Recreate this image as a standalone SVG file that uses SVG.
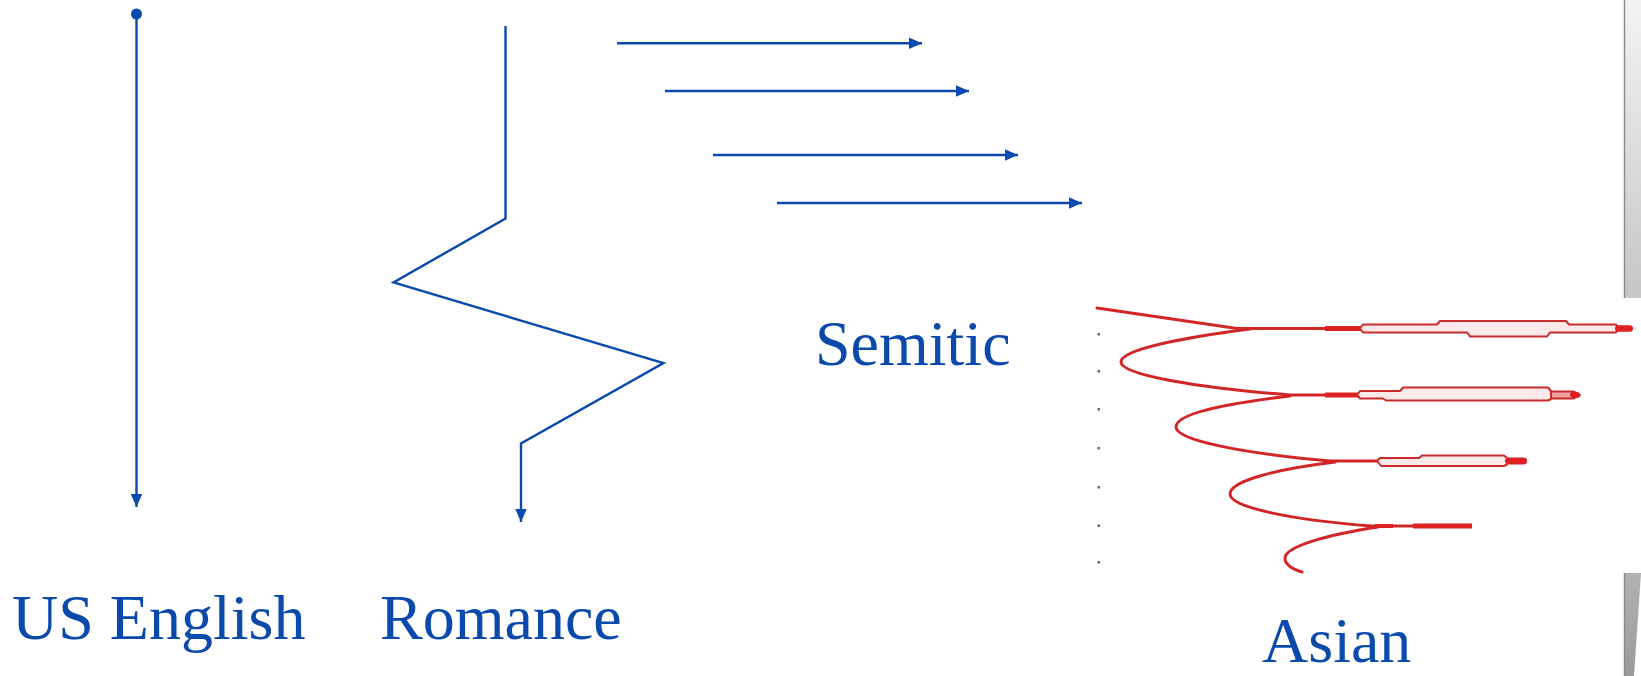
<svg xmlns="http://www.w3.org/2000/svg" width="1641" height="676" viewBox="0 0 1641 676">
  <style>
    .lbl { font-family: "Liberation Serif", "Times New Roman", serif; font-size: 64px; fill: #0b4aad; }
    .conn { fill: none; stroke: #0b4aad; stroke-width: 2.4; stroke-linejoin: miter; }
    .red { fill: none; stroke: #d22626; stroke-width: 3; stroke-linecap: round; }
    .redthick { fill: none; stroke: #dd2222; stroke-width: 5; }
    .pill { fill: #fde9e9; stroke: #cc2b2b; stroke-width: 2; stroke-linejoin: round; }
    .knob { fill: #e02020; }
    .tick { fill: #6a6a6a; }
  </style>
  <defs>
    <marker id="arrow" markerUnits="userSpaceOnUse" markerWidth="15" markerHeight="13" refX="13.5" refY="6" orient="auto">
      <path d="M0,0 L13.5,6 L0,12 Z" fill="#0b4aad"/>
    </marker>
    <linearGradient id="barTop" x1="0" y1="0" x2="0" y2="1">
      <stop offset="0" stop-color="#f3f3f3"/>
      <stop offset="1" stop-color="#c6c6c6"/>
    </linearGradient>
    <linearGradient id="barBot" x1="0" y1="0" x2="0" y2="1">
      <stop offset="0" stop-color="#b2b2b2"/>
      <stop offset="1" stop-color="#9a9a9a"/>
    </linearGradient>
  </defs>
  <rect width="1641" height="676" fill="#ffffff"/>

  <g id="connectors">
    <circle cx="136.5" cy="14" r="5.5" fill="#0b4aad"/>
    <path class="conn" d="M136.5,14 L136.5,507" marker-end="url(#arrow)"/>
    <path class="conn" d="M505.5,26 L505.5,218.5 L393.5,282.5 L663.5,363 L521,443.5 L521,522" marker-end="url(#arrow)"/>
    <path class="conn" d="M617,43.3 L922,43.3" marker-end="url(#arrow)"/>
    <path class="conn" d="M665,91 L969,91" marker-end="url(#arrow)"/>
    <path class="conn" d="M713,155 L1018,155" marker-end="url(#arrow)"/>
    <path class="conn" d="M777,203 L1082,203" marker-end="url(#arrow)"/>
  </g>

  <g id="us-english">
    <text class="lbl" x="12" y="639">US English</text>
  </g>
  <g id="romance">
    <text class="lbl" x="380" y="639">Romance</text>
  </g>
  <g id="semitic">
    <text class="lbl" x="815" y="365">Semitic</text>
  </g>
  <g id="asian">
    <text class="lbl" x="1262" y="662">Asian</text>
  </g>

  <g id="asian-illustration">
    <g class="ticks">
      <rect class="tick" x="1097.5" y="333" width="2.5" height="2.5"/>
      <rect class="tick" x="1097.5" y="370" width="2.5" height="2.5"/>
      <rect class="tick" x="1097.5" y="408" width="2.5" height="2.5"/>
      <rect class="tick" x="1097.5" y="447" width="2.5" height="2.5"/>
      <rect class="tick" x="1097.5" y="486" width="2.5" height="2.5"/>
      <rect class="tick" x="1097.5" y="524.5" width="2.5" height="2.5"/>
      <rect class="tick" x="1097.5" y="561" width="2.5" height="2.5"/>
    </g>
    <path class="red" d="M1097,308 L1237,328.5 L1325,328.5"/>
    <path class="red" d="M1250,329 C1180,338 1121,350 1121,362 C1121,375 1200,388 1290,395 L1325,395"/>
    <path class="red" d="M1290,396 C1215,405 1176,415 1176,427 C1176,440 1240,453 1330,461 L1378,461"/>
    <path class="red" d="M1335,462 C1270,470 1230,482 1230,494 C1230,507 1290,520 1372,526 L1413,526"/>
    <path class="red" d="M1378,527 C1325,535 1285,547 1285,558 C1285,564 1292,569 1302,572"/>
    <path class="redthick" d="M1325,328.5 L1361,328.5"/>
    <path class="pill" d="M1360,328.5 L1363,324.5 L1437,324.5 L1440,321 L1566,321 L1569,324.5 L1616,324.5 L1619,328.5 L1616,332.5 L1550,332.5 L1547,336.5 L1470,336.5 L1467,332.5 L1363,332.5 Z"/>
    <rect class="knob" x="1615" y="325.3" width="18" height="6.4" rx="3.2"/>
    <path class="redthick" d="M1325,395 L1358,395"/>
    <path class="pill" d="M1357,395 L1360,391 L1400,391 L1403,387.5 L1548,387.5 L1551,391 L1551,399 L1548,400.5 L1386,400.5 L1383,398.5 L1360,398.5 Z"/>
    <path class="pill" d="M1551,391.5 L1574,391.5 L1580,395 L1574,398.5 L1551,398.5 Z" style="fill:#f2a0a0"/>
    <rect class="knob" x="1570" y="392" width="10" height="6" rx="3"/>
    <path class="pill" d="M1377,461 L1380,458 L1419,458 L1422,455.5 L1504,455.5 L1507,458 L1507,464.5 L1504,466 L1381,466 Z"/>
    <rect class="knob" x="1505" y="457.5" width="22" height="7" rx="3.5"/>
    <path class="redthick" d="M1375,526 L1393,526" style="stroke-width:4"/>
    <path class="redthick" d="M1413,526 L1472,526"/>
  </g>

  <g id="side-bars">
    <rect x="1624" y="0" width="17" height="298" fill="url(#barTop)"/>
    <line x1="1624.5" y1="0" x2="1624.5" y2="298" stroke="#8c8c8c" stroke-width="1.5"/>
    <polygon points="1624,573 1641,573 1634,676 1624,676" fill="url(#barBot)"/>
    <line x1="1624.5" y1="573" x2="1624.5" y2="676" stroke="#8a8a8a" stroke-width="1.5"/>
  </g>
</svg>
